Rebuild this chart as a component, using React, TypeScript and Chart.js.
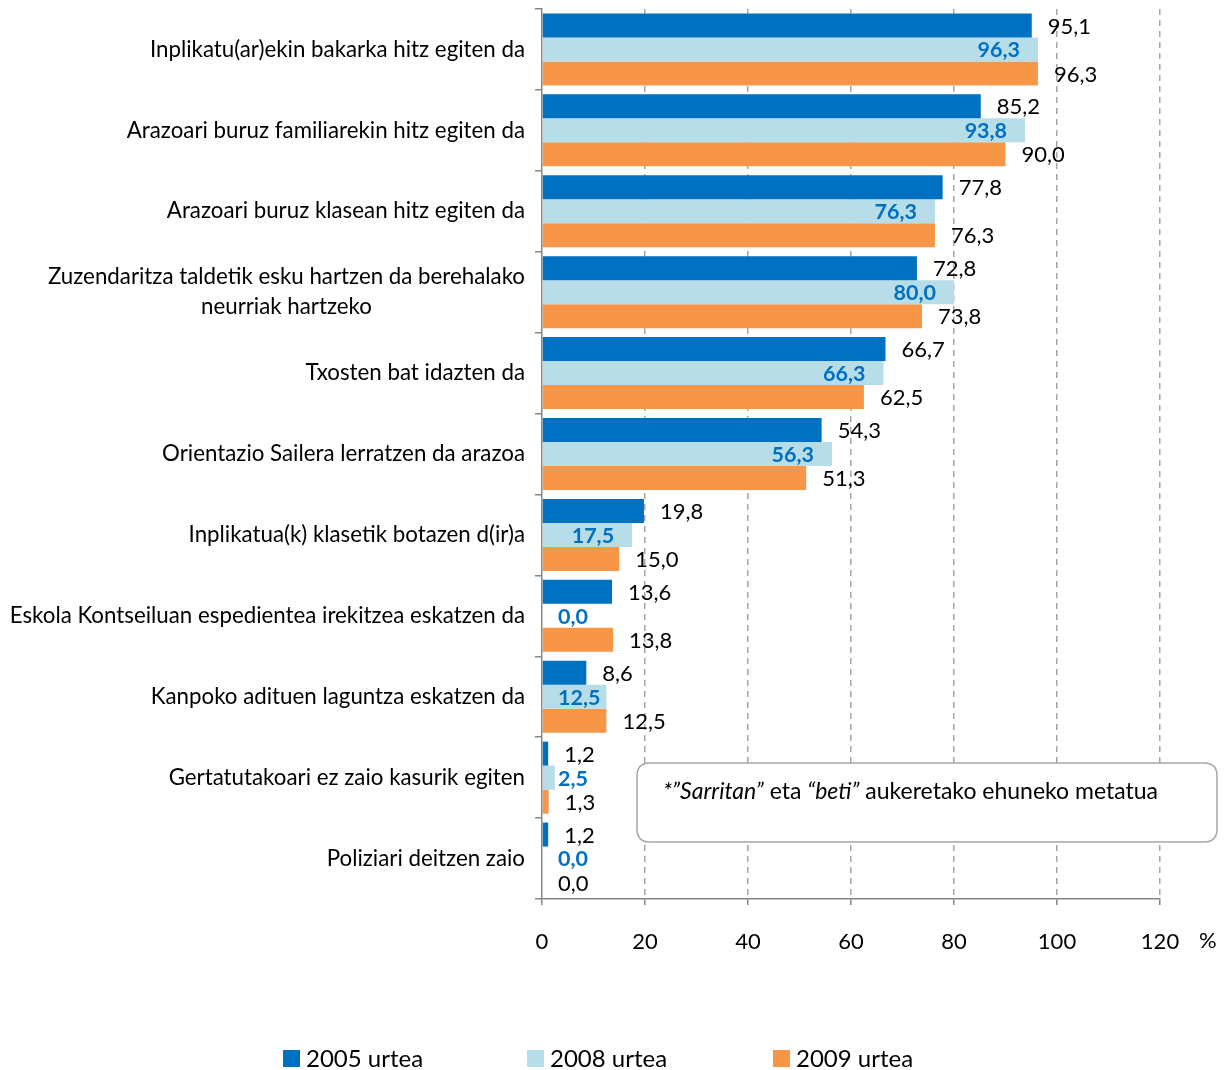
import React, { useEffect, useRef } from "react";
import { Chart, registerables } from "chart.js";

Chart.register(...registerables);

const categories: (string | string[])[] = [
  "Inplikatu(ar)ekin bakarka hitz egiten da",
  "Arazoari buruz familiarekin hitz egiten da",
  "Arazoari buruz klasean hitz egiten da",
  ["Zuzendaritza taldetik esku hartzen da berehalako", "neurriak hartzeko"],
  "Txosten bat idazten da",
  "Orientazio Sailera lerratzen da arazoa",
  "Inplikatua(k) klasetik botazen d(ir)a",
  "Eskola Kontseiluan espedientea irekitzea eskatzen da",
  "Kanpoko adituen laguntza eskatzen da",
  "Gertatutakoari ez zaio kasurik egiten",
  "Poliziari deitzen zaio",
];

const values2005 = [95.1, 85.2, 77.8, 72.8, 66.7, 54.3, 19.8, 13.6, 8.6, 1.2, 1.2];
const values2008 = [96.3, 93.8, 76.3, 80.0, 66.3, 56.3, 17.5, 0.0, 12.5, 2.5, 0.0];
const values2009 = [96.3, 90.0, 76.3, 73.8, 62.5, 51.3, 15.0, 13.8, 12.5, 1.3, 0.0];

const seriesLabels = ["2005 urtea", "2008 urtea", "2009 urtea"];
const seriesColors = ["#0070C0", "#B7DEE8", "#F79646"];

const xMin = 0;
const xMax = 120;
const xStep = 20;
const unitLabel = "%";

const noteParts: { text: string; italic: boolean }[] = [
  { text: "*”Sarritan”", italic: true },
  { text: " eta ", italic: false },
  { text: "“beti”", italic: true },
  { text: " aukeretako ehuneko metatua", italic: false },
];

const FONT = "Lato, 'Open Sans', sans-serif";
const fmt = (v: number) => v.toFixed(1).replace(".", ",");

function roundRect(ctx: CanvasRenderingContext2D, x: number, y: number, w: number, h: number, r: number) {
  ctx.beginPath();
  ctx.moveTo(x + r, y);
  ctx.lineTo(x + w - r, y);
  ctx.quadraticCurveTo(x + w, y, x + w, y + r);
  ctx.lineTo(x + w, y + h - r);
  ctx.quadraticCurveTo(x + w, y + h, x + w - r, y + h);
  ctx.lineTo(x + r, y + h);
  ctx.quadraticCurveTo(x, y + h, x, y + h - r);
  ctx.lineTo(x, y + r);
  ctx.quadraticCurveTo(x, y, x + r, y);
  ctx.closePath();
}

const overlayPlugin = {
  id: "overlay",
  afterDatasetsDraw(chart: any) {
    const ctx: CanvasRenderingContext2D = chart.ctx;
    const xs = chart.scales.x;
    const base = xs.getPixelForValue(0);
    ctx.save();
    ctx.textBaseline = "middle";
    chart.data.datasets.forEach((ds: any, di: number) => {
      const meta = chart.getDatasetMeta(di);
      meta.data.forEach((bar: any, i: number) => {
        const txt = fmt(ds.data[i]);
        if (di === 1) {
          ctx.font = `bold 21.5px ${FONT}`;
          ctx.fillStyle = "#0070C0";
          const w = ctx.measureText(txt).width;
          let left = bar.x - 18 - w;
          if (left < base + 16) left = base + 16;
          ctx.textAlign = "left";
          ctx.fillText(txt, left, bar.y + 1);
        } else {
          ctx.font = `22px ${FONT}`;
          ctx.fillStyle = "#000000";
          ctx.textAlign = "left";
          ctx.fillText(txt, bar.x + 16, bar.y + 1);
        }
      });
    });
    ctx.restore();
  },
  afterDraw(chart: any) {
    const ctx: CanvasRenderingContext2D = chart.ctx;
    const ys = chart.scales.y;
    const xs = chart.scales.x;
    ctx.save();
    // category labels
    ctx.font = `22.3px ${FONT}`;
    ctx.fillStyle = "#000000";
    ctx.textBaseline = "middle";
    ctx.textAlign = "center";
    const rightEdge = 525;
    categories.forEach((lab, i) => {
      const lines = Array.isArray(lab) ? lab : [lab];
      const maxW = Math.max(...lines.map((l) => ctx.measureText(l).width));
      const cx = rightEdge - maxW / 2;
      const cy = ys.getPixelForValue(i);
      const lh = 30;
      lines.forEach((l, k) => {
        ctx.fillText(l, cx, cy + (k - (lines.length - 1) / 2) * lh);
      });
    });
    // unit label
    ctx.font = `22px ${FONT}`;
    ctx.textAlign = "left";
    ctx.fillText(unitLabel, xs.getPixelForValue(xMax) + 39, 941);
    // note box
    const bx = 637, by = 763, bw = 580, bh = 79;
    roundRect(ctx, bx, by, bw, bh, 13);
    ctx.fillStyle = "#FFFFFF";
    ctx.fill();
    ctx.strokeStyle = "#A6A6A6";
    ctx.lineWidth = 1.5;
    ctx.stroke();
    ctx.fillStyle = "#000000";
    let tx = 663;
    noteParts.forEach((p) => {
      ctx.font = `${p.italic ? "italic " : ""}23px ${FONT}`;
      ctx.fillText(p.text, tx, 792);
      tx += ctx.measureText(p.text).width;
    });
    // legend
    const legendX = [283, 527, 773];
    chart.data.datasets.forEach((ds: any, di: number) => {
      const x = legendX[di];
      ctx.fillStyle = ds.backgroundColor;
      ctx.fillRect(x, 1050, 17, 17);
      ctx.fillStyle = "#000000";
      ctx.font = `24px ${FONT}`;
      ctx.textAlign = "left";
      ctx.fillText(ds.label, x + 23, 1059);
    });
    ctx.restore();
  },
};

export default function App() {
  const canvasRef = useRef<HTMLCanvasElement | null>(null);

  useEffect(() => {
    document.body.style.margin = "0";
    const canvas = canvasRef.current;
    if (!canvas) return;
    const chart = new Chart(canvas, {
      type: "bar",
      data: {
        labels: categories as any,
        datasets: [
          { label: seriesLabels[0], data: values2005, backgroundColor: seriesColors[0] },
          { label: seriesLabels[1], data: values2008, backgroundColor: seriesColors[1] },
          { label: seriesLabels[2], data: values2009, backgroundColor: seriesColors[2] },
        ],
      },
      options: {
        indexAxis: "y",
        animation: false,
        responsive: false,
        devicePixelRatio: 1,
        datasets: { bar: { categoryPercentage: 0.89, barPercentage: 1.0 } },
        layout: { padding: { top: 9, right: 67, bottom: 121, left: 0 } },
        plugins: {
          legend: { display: false },
          tooltip: { enabled: false },
        },
        scales: {
          x: {
            type: "linear",
            min: xMin,
            max: xMax,
            ticks: {
              stepSize: xStep,
              color: "#000000",
              font: { family: FONT, size: 22 },
              padding: 24,
            },
            grid: {
              color: (c: any) => (c.index === 0 ? "rgba(0,0,0,0)" : "#A6A6A6"),
              lineWidth: 1.5,
              tickColor: "#868686",
              tickLength: 6,
              drawTicks: true,
            },
            border: { color: "#868686", width: 1.5, dash: [6, 5] },
            afterFit: (s: any) => {
              s.height = 50;
            },
          },
          y: {
            type: "category",
            ticks: { display: false },
            grid: {
              offset: true,
              drawOnChartArea: false,
              drawTicks: true,
              tickLength: 7,
              color: "#868686",
              tickColor: "#868686",
              lineWidth: 1.5,
            },
            border: { color: "#868686", width: 1.5 },
            afterFit: (s: any) => {
              s.width = 542;
            },
          },
        },
      },
      plugins: [overlayPlugin],
    } as any);
    return () => chart.destroy();
  }, []);

  return (
    <div style={{ width: 1227, height: 1070, position: "relative" }}>
      <canvas ref={canvasRef} width={1227} height={1070} style={{ display: "block" }} />
    </div>
  );
}
